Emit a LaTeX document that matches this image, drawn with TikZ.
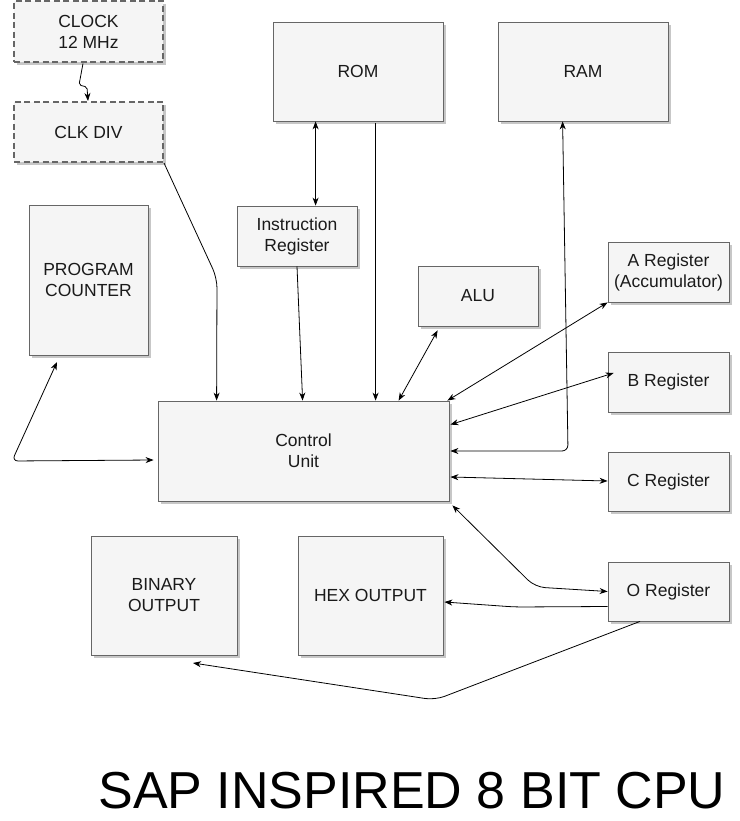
\documentclass[tikz,border=0pt]{standalone}
\usepackage{fontspec}
\setmainfont{Liberation Sans}
\usetikzlibrary{arrows.meta,calc,shadows}
\definecolor{boxfill}{HTML}{F5F5F5}
\definecolor{boxline}{HTML}{666666}
\definecolor{txt}{HTML}{1A1A1A}
\begin{document}
\begin{tikzpicture}[x=1pt,y=-1pt,
  box/.style={draw=boxline, fill=boxfill, line width=0.8pt, align=center, inner sep=0pt,
    text=txt, font=\fontsize{17.5}{21}\selectfont,
    drop shadow={shadow xshift=3pt, shadow yshift=-3pt, fill=black, opacity=0.22}},
  dashbox/.style={line width=2pt, dash pattern=on 6pt off 3.5pt},
  conn/.style={draw=black, line width=0.8pt},
  tip/.style={-{Stealth[length=8pt,width=6pt,inset=2.5pt]}},
  dtip/.style={{Stealth[length=8pt,width=6pt,inset=2.5pt]}-{Stealth[length=8pt,width=6pt,inset=2.5pt]}}
]
\useasboundingbox (0,0) rectangle (739,821);

% boxes
\node[box,dashbox,minimum width=149pt,minimum height=61pt] (clock) at (88.5,32) {CLOCK\\12 MHz};
\node[box,dashbox,minimum width=149pt,minimum height=60pt] (clkdiv) at (88.5,132) {CLK DIV};
\node[box,minimum width=119pt,minimum height=150pt] (pc) at (88.5,280) {PROGRAM\\COUNTER};
\node[box,minimum width=170pt,minimum height=99pt] (rom) at (358,71.5) {ROM};
\node[box,minimum width=170pt,minimum height=99pt] (ram) at (583,71.5) {RAM};
\node[box,minimum width=120pt,minimum height=60pt] (ir) at (297,236) {Instruction\\Register};
\node[box,minimum width=120pt,minimum height=60pt] (alu) at (478,296) {ALU};
\node[box,minimum width=121pt,minimum height=60pt] (areg) at (668.5,272) {A Register\\(Accumulator)};
\node[box,minimum width=121pt,minimum height=60pt] (breg) at (668.5,382) {B Register};
\node[box,minimum width=121pt,minimum height=59pt] (creg) at (668.5,481.5) {C Register};
\node[box,minimum width=121pt,minimum height=59pt] (oreg) at (668.5,591.5) {O Register};
\node[box,minimum width=291pt,minimum height=100pt] (cu) at (303.5,451) {Control\\Unit};
\node[box,minimum width=146pt,minimum height=119pt] (bin) at (164,595.5) {BINARY\\OUTPUT};
\node[box,minimum width=145pt,minimum height=119pt] (hex) at (370.5,595.5) {HEX OUTPUT};

\node[text=black, font=\fontsize{52}{60}\selectfont, inner sep=0pt] (title) at (412,791) {SAP INSPIRED 8 BIT CPU};

% connectors
\coordinate (c1) at (79,85);
\coordinate (c2) at (87,87);
\draw[conn,tip,rounded corners=2pt] ($(clock.south)+(-5.5,0)$) -- (c1) -- (c2) -- ($(clkdiv.north)+(-0.5,0)$);

\coordinate (k1) at (217,278);
\draw[conn,tip,rounded corners=10pt] (clkdiv.south east) -- (k1) -- ($(cu.north west)+(59,0)$);

\draw[conn,dtip] ($(rom.south west)+(43,0)$) -- ($(ir.north west)+(79,0)$);
\draw[conn,tip] (ir.south) -- ($(cu.north west)+(145,0)$);
\draw[conn,tip] ($(rom.south west)+(103,2)$) -- ($(cu.north west)+(218,0)$);
\draw[conn,dtip] ($(alu.south west)+(20,4)$) -- ($(cu.north west)+(241,0)$);
\draw[conn,dtip] (areg.south west) -- ($(cu.north east)+(-2,0)$);
\draw[conn,dtip] ($(breg.west)+(6,-9)$) -- ($(cu.north east)+(1,24)$);

\coordinate (r1) at (568,451);
\draw[conn,dtip,rounded corners=6pt] ($(cu.east)+(1,0)$) -- (r1) -- ($(ram.south west)+(65,0)$);

\draw[conn,dtip] ($(cu.east)+(1,26)$) -- ($(creg.west)+(0,-0.5)$);

\coordinate (o1) at (535,587);
\draw[conn,dtip,rounded corners=10pt] ($(cu.south east)+(3,4)$) -- (o1) -- (oreg.west);

\coordinate (h1) at (515,607);
\draw[conn,tip,rounded corners=8pt] ($(oreg.west)+(0,15)$) -- (h1) -- ($(hex.east)+(1,6.5)$);

\coordinate (b1) at (435,700);
\coordinate (bend) at (193,663);
\draw[conn,tip,rounded corners=10pt] ($(oreg.south)+(-28.5,0)$) -- (b1) -- (bend);

\coordinate (p1) at (12,461);
\coordinate (pend) at (57,362);
\draw[conn,dtip,rounded corners=6pt] (pend) -- (p1) -- ($(cu.west)+(-4,9)$);
\end{tikzpicture}
\end{document}
